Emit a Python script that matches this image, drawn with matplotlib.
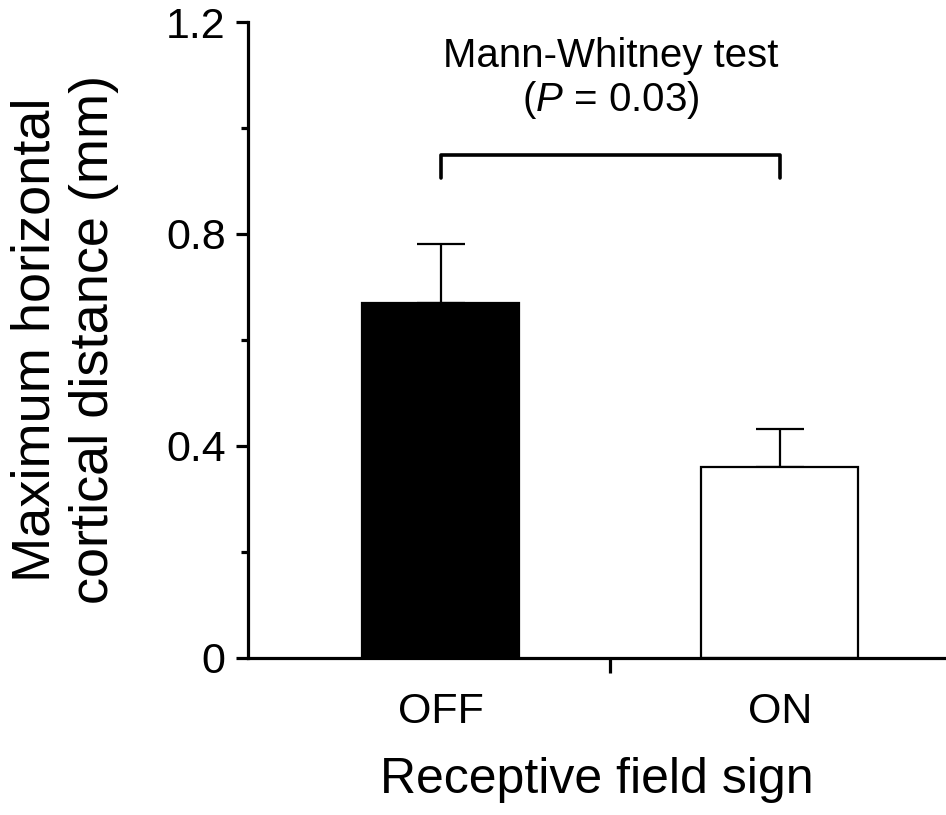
import matplotlib
matplotlib.use("Agg")
import matplotlib.pyplot as plt
import numpy as np

plt.rcParams['font.family'] = ['Liberation Sans', 'DejaVu Sans']
plt.rcParams['mathtext.fontset'] = 'custom'
plt.rcParams['mathtext.rm'] = 'Liberation Sans'
plt.rcParams['mathtext.it'] = 'Liberation Sans:italic'

categories = ["OFF", "ON"]
means = [0.670, 0.360]
sems = [0.111, 0.072]
colors = ["black", "white"]
bracket_y = 0.949
bracket_drop = 0.043

fig = plt.figure(figsize=(9.46, 8.15), dpi=100)
ax = fig.add_axes([0.262, 0.193, 0.738, 0.780])

x = np.arange(len(categories))
ax.bar(x, means, width=0.463, color=colors, edgecolor="black", linewidth=1.6, zorder=2)
ax.errorbar(x, means, yerr=[np.zeros(len(sems)), sems], fmt="none",
            ecolor="black", elinewidth=1.6, capsize=17, capthick=1.6, zorder=1)

ax.set_xlim(-0.569, 1.49)
ax.set_ylim(0, 1.2)

for s in ["top", "right"]:
    ax.spines[s].set_visible(False)
for s in ["left", "bottom"]:
    ax.spines[s].set_linewidth(2.3)

ax.set_yticks([0, 0.4, 0.8, 1.2])
ax.set_yticklabels(["0", "0.4", "0.8", "1.2"])
ax.set_yticks([0.2, 0.6, 1.0], minor=True)
ax.tick_params(axis="y", which="major", length=9, width=2.3, labelsize=31, pad=7)
ax.tick_params(axis="y", which="minor", length=5, width=2.3)

# x tick between categories, labels at categories without ticks
ax.set_xticks([0.5])
ax.set_xticklabels([""])
ax.tick_params(axis="x", which="major", length=11, width=2.3)
for xi, lab in zip(x, categories):
    ax.text(xi, -0.085, lab, ha="center", va="center", fontsize=31,
            transform=ax.get_xaxis_transform())

ax.set_xlabel("Receptive field sign", fontsize=36, labelpad=57)
ax.set_ylabel("Maximum horizontal\ncortical distance (mm)", fontsize=39,
              labelpad=34, linespacing=1.2)

# significance bracket
ax.plot([x[0], x[0], x[1], x[1]],
        [bracket_y - bracket_drop, bracket_y, bracket_y, bracket_y - bracket_drop],
        color="black", lw=2.6, clip_on=False, solid_capstyle="round")
ax.text(0.5, 1.135, "Mann-Whitney test", ha="center", va="center", fontsize=29)
ax.text(0.5, 1.052, "($\\mathit{P}$ = 0.03)", ha="center", va="center", fontsize=29)

fig.savefig("out.png", dpi=100)
